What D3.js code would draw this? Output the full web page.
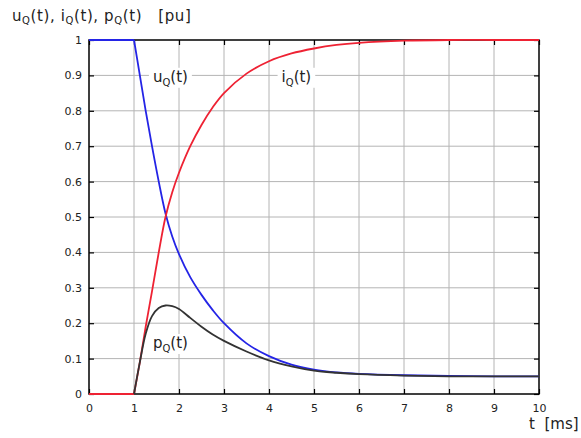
<!DOCTYPE html>
<html>
<head>
<meta charset="utf-8">
<script src="https://cdn.jsdelivr.net/npm/d3@7"></script>
<style>
  body { margin: 0; background: #fff; }
  text { font-family: "DejaVu Sans", sans-serif; fill: #222; }
</style>
</head>
<body>
<div id="chart"></div>
<script>
// time axis [ms] and the three curves [pu]
const time = [0, 1, 1.13, 1.26, 1.4, 1.55, 1.7, 1.85, 2, 2.25, 2.5, 2.75, 3, 3.5, 4, 4.5, 5, 5.5, 6, 7, 8, 9, 10];
const uQ = [1, 1, 0.9, 0.8, 0.7, 0.6, 0.51, 0.445, 0.395, 0.33, 0.28, 0.237, 0.2, 0.143, 0.107, 0.083, 0.069, 0.061, 0.057, 0.053, 0.051, 0.05, 0.05];
const iQ = [0, 0, 0.09, 0.19, 0.29, 0.4, 0.5, 0.57, 0.625, 0.7, 0.76, 0.81, 0.85, 0.905, 0.94, 0.962, 0.976, 0.986, 0.992, 0.998, 1, 1, 1];
const pQ = [0, 0, 0.09, 0.17, 0.22, 0.243, 0.25, 0.248, 0.24, 0.215, 0.19, 0.168, 0.15, 0.12, 0.095, 0.078, 0.066, 0.06, 0.056, 0.052, 0.05, 0.05, 0.05];
const xTicks = [0, 1, 2, 3, 4, 5, 6, 7, 8, 9, 10];
const yTicks = [0, 0.1, 0.2, 0.3, 0.4, 0.5, 0.6, 0.7, 0.8, 0.9, 1];

const margin = { top: 40, right: 42, bottom: 44, left: 89 },
  width = 581 - margin.left - margin.right,
  height = 438 - margin.top - margin.bottom;

const x = d3.scaleLinear().domain([0, 10]).range([0, width]),
  y = d3.scaleLinear().domain([0, 1]).range([height, 0]);

const root = d3
  .select("#chart")
  .append("svg")
  .attr("width", 581)
  .attr("height", 438);

const svg = root
  .append("g")
  .attr("transform", "translate(" + margin.left + "," + margin.top + ")");

// grid
svg.append("g")
  .selectAll("line")
  .data(xTicks.slice(1, -1))
  .enter()
  .append("line")
  .attr("x1", (d) => x(d)).attr("x2", (d) => x(d))
  .attr("y1", 0).attr("y2", height)
  .attr("stroke", "#b4b4b4");
svg.append("g")
  .selectAll("line")
  .data(yTicks.slice(1, -1))
  .enter()
  .append("line")
  .attr("x1", 0).attr("x2", width)
  .attr("y1", (d) => y(d)).attr("y2", (d) => y(d))
  .attr("stroke", "#b4b4b4");

// axes with inward ticks on all four sides
const fmt = (d) => (d === 0 || d === 1 ? String(d) : d3.format(".1f")(d));
svg.append("g").attr("transform", "translate(0," + height + ")")
  .call(d3.axisBottom(x).tickValues(xTicks).tickSize(-5).tickPadding(10).tickFormat(d3.format("d")));
svg.append("g")
  .call(d3.axisLeft(y).tickValues(yTicks).tickSize(-5).tickPadding(7).tickFormat(fmt));
svg.append("g").call(d3.axisTop(x).tickValues(xTicks).tickSize(-5).tickFormat(""));
svg.append("g").attr("transform", "translate(" + width + ",0)")
  .call(d3.axisRight(y).tickValues(yTicks).tickSize(-5).tickFormat(""));
svg.selectAll(".domain").remove();
svg.selectAll(".tick line").attr("stroke", "#000").attr("stroke-width", 1.2);
svg.selectAll(".tick text").attr("font-family", "DejaVu Sans").attr("font-size", 11).attr("fill", "#222");

svg.append("rect")
  .attr("width", width).attr("height", height)
  .attr("fill", "none").attr("stroke", "#000").attr("stroke-width", 1.5);

// text labels with white background boxes
function label(tx, ty, base) {
  const g = svg.append("g");
  const t = g.append("text").attr("x", x(tx)).attr("y", y(ty)).attr("font-size", 15);
  t.append("tspan").text(base);
  t.append("tspan").attr("font-size", 10).attr("dy", 4).text("Q");
  t.append("tspan").attr("dy", -4).text("(t)");
  const b = t.node().getBBox();
  g.insert("rect", "text")
    .attr("x", b.x - 4).attr("y", b.y)
    .attr("width", b.width + 8).attr("height", b.height)
    .attr("fill", "#fff");
}
label(1.42, 0.882, "u");
label(4.28, 0.882, "i");
label(1.42, 0.13, "p");

// curves: flat part before t = 1 straight, the rest smoothed
const series = [
  { v: uQ, c: "#2424e6" },
  { v: iQ, c: "#ee2233" },
  { v: pQ, c: "#333333" },
];
const flat = d3.line().x((d) => x(d[0])).y((d) => y(d[1]));
const smooth = d3.line().x((d) => x(d[0])).y((d) => y(d[1])).curve(d3.curveCatmullRom.alpha(0.5));
// flat parts first, red last so it sits on the bottom edge
[series[2], series[0], series[1]].forEach((s) => {
  const pts = time.slice(0, 2).map((t, i) => [t, s.v[i]]);
  svg.append("path").attr("d", flat(pts))
    .attr("fill", "none").attr("stroke", s.c).attr("stroke-width", 1.8);
});
series.forEach((s) => {
  const pts = time.map((t, i) => [t, s.v[i]]).slice(1);
  svg.append("path").attr("d", smooth(pts))
    .attr("fill", "none").attr("stroke", s.c).attr("stroke-width", 1.8);
});

// title and axis name
const title = root.append("text").attr("x", 12).attr("y", 21).attr("font-size", 15)
  .attr("letter-spacing", 0.6);
[["u", 0], ["Q", 1], ["(t), i", 0], ["Q", 1], ["(t), p", 0], ["Q", 1], ["(t)", 0], ["\u00a0\u00a0\u00a0[pu]", 0]].forEach((p, i, arr) => {
  const prev = i > 0 ? arr[i - 1][1] : 0;
  title.append("tspan")
    .attr("font-size", p[1] ? 10 : 15)
    .attr("dy", (p[1] - prev) * 3)
    .text(p[0]);
});
root.append("text").attr("x", 529).attr("y", 429)
  .attr("font-family", "Liberation Serif, serif").attr("font-size", 15)
  .text("t\u00a0\u00a0[ms]");
</script>
</body>
</html>
